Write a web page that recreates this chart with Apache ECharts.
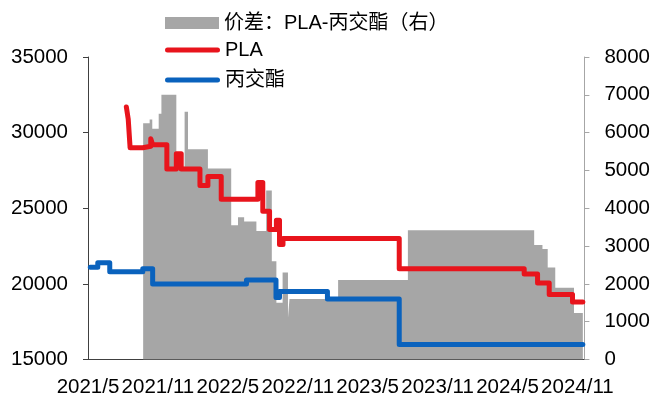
<!DOCTYPE html>
<html>
<head>
<meta charset="utf-8">
<script src="https://cdn.jsdelivr.net/npm/echarts@6/dist/echarts.min.js"></script>
<style>html,body{margin:0;padding:0;background:#fff}#c{width:653px;height:398px}</style>
</head>
<body>
<div id="c"></div>
<script>
// ---- data ----
const plaDates = ['2021-08-10','2021-08-15','2021-08-20','2021-09-22','2021-10-13','2021-10-18','2021-11-24','2021-12-19','2022-01-01','2022-02-18','2022-03-10','2022-04-14','2022-07-19','2022-08-01','2022-08-19','2022-09-06','2022-09-14','2022-09-23','2023-07-23','2024-06-14','2024-07-19','2024-08-19','2024-10-19','2024-11-15'];
const plaValues = [31700,30900,29000,29100,29600,29200,27600,28600,27600,26500,27100,25600,26700,24800,23600,24200,22600,23000,21000,20650,20050,19300,18800,18800];

const lactideDates = ['2021-05-07','2021-05-27','2021-06-27','2021-09-22','2021-10-18','2022-06-19','2022-09-05','2022-09-14','2023-01-18','2023-07-23','2024-11-15'];
const lactideValues = [21100,21400,20800,21000,20000,20250,19100,19500,19000,16000,16000];

const spreadDates = ['2021-09-23','2021-10-10','2021-10-17','2021-11-03','2021-11-10','2021-12-19','2022-01-10','2022-01-19','2022-03-10','2022-05-10','2022-05-28','2022-06-13','2022-07-15','2022-08-10','2022-08-25','2022-09-06','2022-09-22','2022-10-06','2022-10-10','2023-02-14','2023-08-15','2024-07-10','2024-08-01','2024-08-15','2024-09-04','2024-10-23','2024-11-15'];
const spreadValues = [6250,6350,6100,6500,7000,5100,6550,5560,5050,3550,3760,3650,3400,4470,2600,1500,2300,1100,1600,2100,3420,3030,2920,2430,1900,1230,1230];

const xTickLabels = ['2021/5','2021/11','2022/5','2022/11','2023/5','2023/11','2024/5','2024/11'];
const seriesNames = ['价差：PLA-丙交酯（右）','PLA','丙交酯'];

// months since 2021-05-01 (fractional)
function toM(s){
  const [y,m,d] = s.split('-').map(Number);
  const dim = new Date(y, m, 0).getDate();
  return (y-2021)*12 + (m-5) + (d-1)/dim;
}
const pairs = (ds, vs) => ds.map((d,i)=>[toM(d), vs[i]]);

const FONT = '"Liberation Sans", Arial, "Noto Sans CJK SC", sans-serif';
const PILL = 'path://M2.5,0 L52.5,0 A2.5,2.5 0 0 1 52.5,5 L2.5,5 A2.5,2.5 0 0 1 2.5,0 Z';
const legendText = {fontSize:20, color:'#000', fontFamily:FONT};
const chart = echarts.init(document.getElementById('c'), null, {renderer:'canvas'});
chart.setOption({
  animation:false,
  backgroundColor:'#fff',
  textStyle:{fontFamily:FONT},
  grid:{left:88, right:68, top:57, bottom:36, containLabel:false},
  legend:[
    {left:160, top:8, itemWidth:54, itemHeight:12, data:[{name:seriesNames[0], icon:'rect'}], textStyle:legendText},
    {left:160, top:35, itemWidth:55, itemHeight:5, data:[{name:seriesNames[1], icon:PILL}], textStyle:legendText},
    {left:160, top:65, itemWidth:55, itemHeight:5, data:[{name:seriesNames[2], icon:PILL}], textStyle:legendText}
  ],
  xAxis:{
    type:'value', min:0, max:42.6, interval:6,
    axisLine:{lineStyle:{color:'#404040', width:1}},
    axisTick:{inside:true, length:5, lineStyle:{color:'#404040'}},
    splitLine:{show:false},
    axisLabel:{
      color:'#000', fontSize:20.5, fontFamily:FONT, margin:18, showMaxLabel:false,
      formatter:v => { const k = Math.round(v/6); return (Math.abs(v - k*6) < 1e-6) ? (xTickLabels[k]||'') : ''; }
    }
  },
  yAxis:[
    {type:'value', min:15000, max:35000, interval:5000, position:'left',
     axisLine:{show:true, lineStyle:{color:'#404040'}},
     axisTick:{show:true, length:5, lineStyle:{color:'#404040'}},
     splitLine:{show:false},
     axisLabel:{color:'#000', fontSize:20.5, fontFamily:FONT, margin:20, formatter:v => String(v)}},
    {type:'value', min:0, max:8000, interval:1000, position:'right',
     axisLine:{show:true, lineStyle:{color:'#A6A6A6'}},
     axisTick:{show:true, length:5, lineStyle:{color:'#A6A6A6'}},
     splitLine:{show:false},
     axisLabel:{color:'#000', fontSize:20.5, fontFamily:FONT, margin:20, formatter:v => String(v)}}
  ],
  series:[
    {name:seriesNames[0], type:'line', yAxisIndex:1, step:'end', symbol:'none',
     data:pairs(spreadDates, spreadValues), z:1,
     itemStyle:{color:'#A6A6A6'},
     lineStyle:{width:0, color:'#A6A6A6'},
     areaStyle:{color:'#A6A6A6', opacity:1}},
    {name:seriesNames[1], type:'line', yAxisIndex:0, step:'end', symbol:'none',
     data:pairs(plaDates, plaValues), z:3,
     itemStyle:{color:'#E8141C'},
     lineStyle:{width:5, color:'#E8141C', cap:'round', join:'round'}},
    {name:seriesNames[2], type:'line', yAxisIndex:0, step:'end', symbol:'none',
     data:pairs(lactideDates, lactideValues), z:2,
     itemStyle:{color:'#0A62BD'},
     lineStyle:{width:5, color:'#0A62BD', cap:'round', join:'round'}}
  ]
});
</script>
</body>
</html>
